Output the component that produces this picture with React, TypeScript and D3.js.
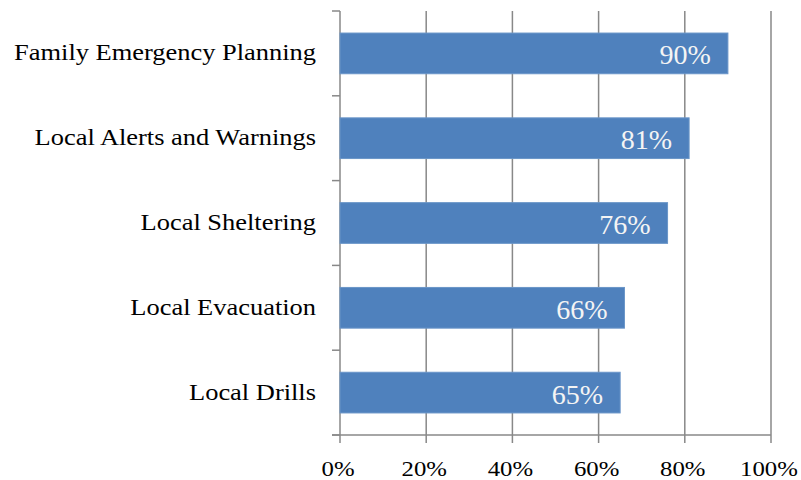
import * as d3 from 'd3';

const categories = ['Family Emergency Planning', 'Local Alerts and Warnings', 'Local Sheltering', 'Local Evacuation', 'Local Drills'];
const values = [90, 81, 76, 66, 65];
const xTicks = [0, 20, 40, 60, 80, 100];

const W = 801;
const H = 480;
const margin = { top: 11, right: 30, bottom: 45, left: 340 };
const serif = "'Liberation Serif', 'Times New Roman', serif";

export default function App() {
  const x = d3.scaleLinear().domain([0, 100]).range([margin.left, W - margin.right]);
  const y = d3.scaleBand().domain(categories).range([margin.top, H - margin.bottom]).paddingInner(0.52).paddingOuter(0.26);
  const step = y.step();
  const bandEdges = d3.range(categories.length + 1).map(i => margin.top + i * step);
  const bottom = H - margin.bottom;

  return (
    <svg width={W} height={H} style={{ position: 'absolute', left: 0, top: 0, background: '#fff' }}>
      {xTicks.map(t => (
        <line key={'g' + t} x1={x(t)} x2={x(t)} y1={margin.top} y2={bottom + 8} stroke="#888" strokeWidth={1.5} />
      ))}
      {bandEdges.map((e, i) => (
        <line key={'yt' + i} x1={x(0) - 8} x2={x(0)} y1={e} y2={e} stroke="#888" strokeWidth={1.5} />
      ))}
      <line x1={x(0) - 8} x2={x(100)} y1={bottom} y2={bottom} stroke="#888" strokeWidth={1.5} />
      {categories.map((c, i) => {
        const cy = (y(c) as number) + y.bandwidth() / 2;
        return (
          <g key={c}>
            <rect x={x(0)} y={y(c)} width={x(values[i]) - x(0)} height={y.bandwidth()} fill="#4F81BD" stroke="#6A95C8" strokeWidth={1} />
            <text x={x(values[i]) - 17} y={cy + 11} textAnchor="end"
              fontFamily={serif} fontSize={28} fill="#f4f4f4">{values[i]}%</text>
            <text transform={`translate(316,${cy + 7}) scale(1.15,1)`} textAnchor="end"
              fontFamily={serif} fontSize={23} fill="#000">{c}</text>
          </g>
        );
      })}
      {xTicks.map(t => (
        <text key={'xl' + t} transform={`translate(${x(t) - 2},476) scale(1.18,1)`} textAnchor="middle"
          fontFamily={serif} fontSize={21} fill="#000">{t}%</text>
      ))}
    </svg>
  );
}
